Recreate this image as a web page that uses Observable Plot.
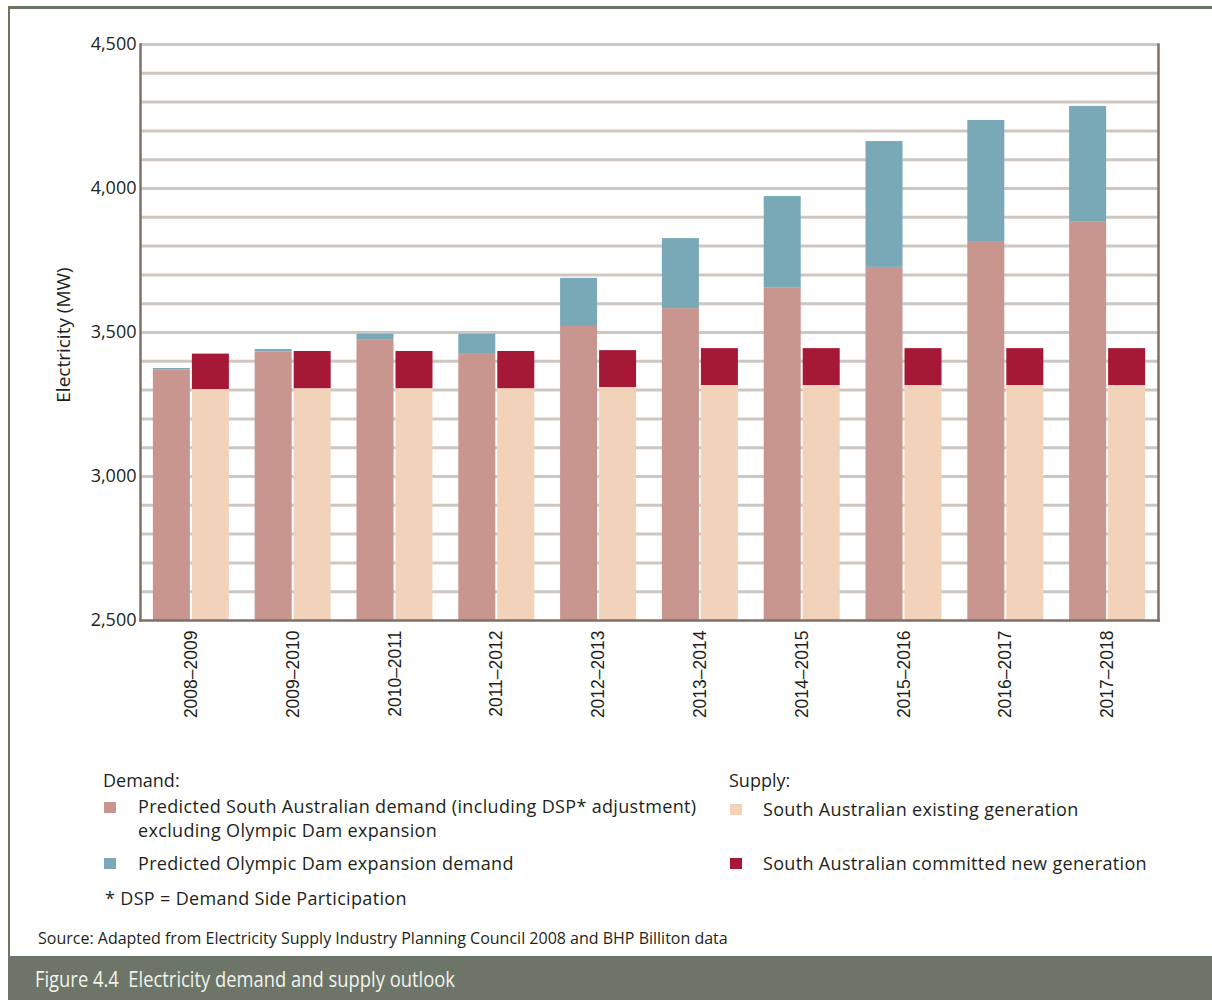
<!DOCTYPE html>
<html>
<head>
<meta charset="utf-8">
<script src="https://cdn.jsdelivr.net/npm/d3@7"></script>
<script src="https://cdn.jsdelivr.net/npm/@observablehq/plot@0.6"></script>
<style>
  html, body { margin: 0; padding: 0; background: #fff; }
  #page { position: relative; width: 1212px; height: 1000px; overflow: hidden; background: #fff; font-family: "Open Sans", sans-serif; color: #231f20; }
  #chart { position: absolute; left: 0; top: 0; }
  .border-top { position: absolute; left: 8px; top: 6px; width: 1204px; height: 2.5px; background: #6d7566; }
  .border-left { position: absolute; left: 8px; top: 6px; width: 2px; height: 950px; background: #6d7566; }
  .footer { position: absolute; left: 8px; top: 956px; width: 1204px; height: 44px; background: #6c7567; }
  .footer span { position: absolute; left: 27px; top: 9px; font-size: 21px; color: #f2f2ee; white-space: nowrap; display: inline-block; transform: scaleX(0.875); transform-origin: left center; }
  .lg { position: absolute; font-size: 18px; white-space: nowrap; line-height: 20px; }
  .lg.wide { letter-spacing: 0.33px; }
  .sw { position: absolute; width: 12px; height: 11px; }
  .source { position: absolute; left: 38px; top: 927px; font-size: 16px; white-space: nowrap; }
  .ylabel { position: absolute; left: 63px; top: 335px; font-size: 19px; white-space: nowrap; transform: translate(-50%, -50%) rotate(-90deg); }
</style>
</head>
<body>
<div id="page">
  <div id="chart"></div>
  <div class="ylabel">Electricity (MW)</div>
  <div class="border-top"></div>
  <div class="border-left"></div>
  <div id="legend"></div>
  <div class="source">Source: Adapted from Electricity Supply Industry Planning Council 2008 and BHP Billiton data</div>
  <div class="footer"><span>Figure 4.4&nbsp; Electricity demand and supply outlook</span></div>
</div>
<script>
// ---- data ----
const years = ["2008–2009", "2009–2010", "2010–2011", "2011–2012", "2012–2013", "2013–2014", "2014–2015", "2015–2016", "2016–2017", "2017–2018"];
const saDemand = [3370, 3432, 3473, 3427, 3521, 3583, 3654, 3726, 3813, 3885];
const olympicDam = [5, 9, 21, 67, 167, 243, 318, 437, 423, 400];
const existingGen = [3302, 3305, 3305, 3305, 3309, 3316, 3316, 3316, 3316, 3316];
const committedGen = [123, 129, 129, 129, 128, 128, 128, 128, 128, 128];
const yTicks = [2500, 3000, 3500, 4000, 4500];
const gridTicks = d3.range(2600, 4501, 100);

const seriesNames = [
  "Predicted South Australian demand (including DSP* adjustment) excluding Olympic Dam expansion",
  "Predicted Olympic Dam expansion demand",
  "South Australian existing generation",
  "South Australian committed new generation"
];
const seriesColors = ["#c9958f", "#79a8b6", "#f3d2ba", "#a61936"];

const demandRows = [];
const supplyRows = [];
years.forEach((yr, i) => {
  demandRows.push({year: yr, series: seriesNames[0], value: saDemand[i]});
  demandRows.push({year: yr, series: seriesNames[1], value: olympicDam[i]});
  supplyRows.push({year: yr, series: seriesNames[2], value: existingGen[i]});
  supplyRows.push({year: yr, series: seriesNames[3], value: committedGen[i]});
});

const axisColor = "#7d716a";
const fmt = d3.format(",");

const chart = Plot.plot({
  width: 1212,
  height: 730,
  marginLeft: 140,
  marginRight: 54,
  marginTop: 44,
  marginBottom: 110,
  style: {background: "transparent", color: "#231f20"},
  x: {domain: years, paddingInner: 0.6365, paddingOuter: 0.318, round: false},
  y: {domain: [2500, 4500]},
  color: {domain: seriesNames, range: seriesColors},
  marks: [
    Plot.gridY(gridTicks, {stroke: "#cec7c1", strokeOpacity: 1, strokeWidth: 3}),
    Plot.barY(demandRows, {x: "year", y: "value", fill: "series", dx: -19.5, clip: true}),
    Plot.barY(supplyRows, {x: "year", y: "value", fill: "series", dx: 19.5, clip: true}),
    Plot.frame({anchor: "left", stroke: axisColor, strokeWidth: 2.5}),
    Plot.frame({anchor: "right", stroke: axisColor, strokeWidth: 2.5}),
    Plot.frame({anchor: "bottom", stroke: axisColor, strokeWidth: 2.5}),
    Plot.axisY(yTicks, {
      tickSize: 0, tickPadding: 4, tickFormat: fmt, fontSize: 18, fontFamily: "Open Sans", label: null
    }),
    Plot.axisX({
      tickSize: 0, tickPadding: 10, tickRotate: -90, fontSize: 17.5, fontFamily: "Liberation Sans", label: null
    })
  ]
});
document.getElementById("chart").appendChild(chart);

// ---- legend ----
const legend = document.getElementById("legend");
function addText(txt, x, y, cls) {
  const d = document.createElement("div");
  d.className = "lg" + (cls ? " " + cls : "");
  d.style.left = x + "px";
  d.style.top = y + "px";
  d.textContent = txt;
  legend.appendChild(d);
}
function addSwatch(color, x, y) {
  const d = document.createElement("div");
  d.className = "sw";
  d.style.left = x + "px";
  d.style.top = y + "px";
  d.style.background = color;
  legend.appendChild(d);
}
addText("Demand:", 103, 770);
addSwatch(seriesColors[0], 104, 802);
addText("Predicted South Australian demand (including DSP* adjustment)", 138, 796, "wide");
addText("excluding Olympic Dam expansion", 138, 820, "wide");
addSwatch(seriesColors[1], 104, 858);
addText("Predicted Olympic Dam expansion demand", 138, 853, "wide");
addText("* DSP = Demand Side Participation", 105, 888, "wide");
addText("Supply:", 729, 770);
addSwatch(seriesColors[2], 730, 804);
addText("South Australian existing generation", 763, 799, "wide");
addSwatch(seriesColors[3], 730, 858);
addText("South Australian committed new generation", 763, 853, "wide");
</script>
</body>
</html>
